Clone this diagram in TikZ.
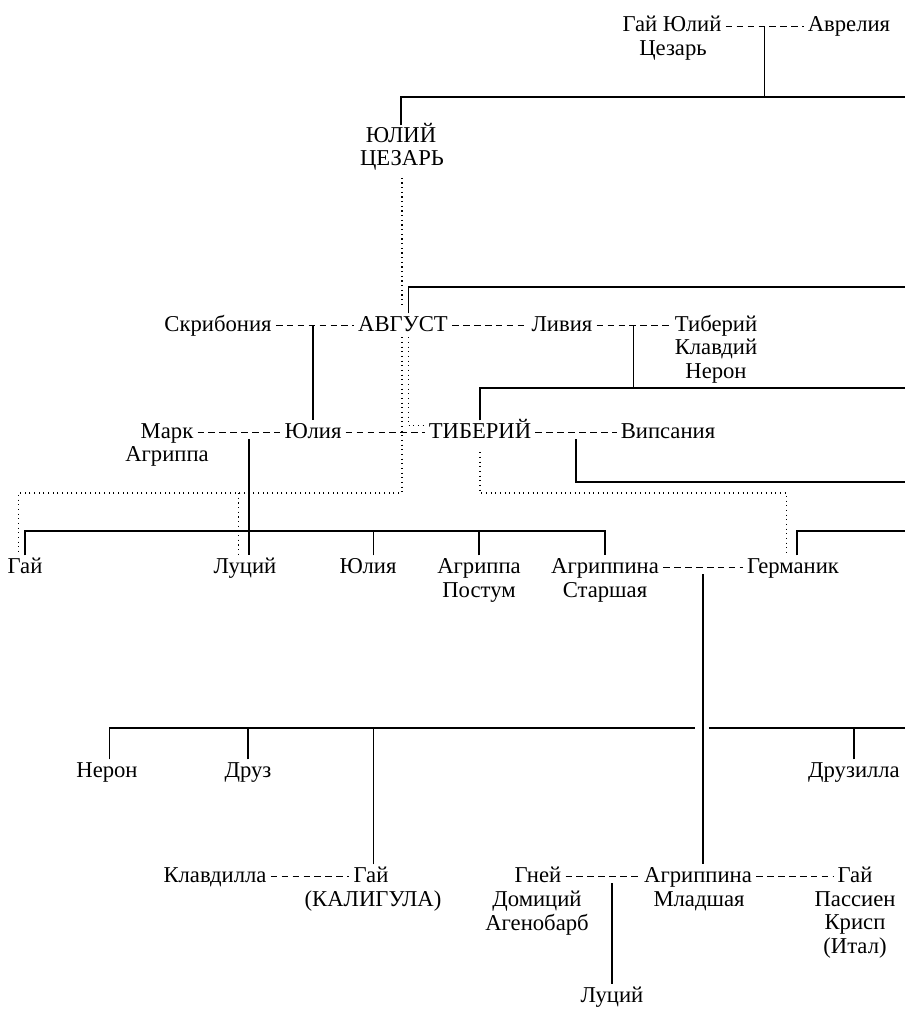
\documentclass[tikz,border=0pt]{standalone}
\usepackage{fontspec}
\setmainfont{Liberation Serif}
\usetikzlibrary{calc}

\begin{document}
\begin{tikzpicture}[
    x=0.75pt, y=-0.75pt,
    person/.style={font=\fontsize{17}{17.6}\selectfont, inner xsep=3pt, inner ysep=0pt, text height=13pt, text depth=4.5pt, anchor=base},
    more/.style={font=\fontsize{17}{17.6}\selectfont, inner sep=0pt, align=center, anchor=base},
    descent/.style={line width=0.85pt},
    marriage/.style={line width=0.8pt, dash pattern=on 5pt off 3.2pt},
    adopt/.style={line width=0.9pt, dash pattern=on 0.9pt off 2.6pt}
]
    \useasboundingbox (0,0) rectangle (905,1009);

    \node[person] (gjc) at (672,32) {Гай Юлий};
    \node[more] (gjc2) at (673,56) {Цезарь};
    \node[person] (aurelia) at (849,32) {Аврелия};

    \node[person] (caesar) at (401,143) {ЮЛИЙ};
    \node[more] (caesar2) at (402,166) {ЦЕЗАРЬ};

    \node[person] (scribonia) at (218,331) {Скрибония};
    \node[person] (august) at (403,331) {АВГУСТ};
    \node[person] (livia) at (562,331) {Ливия};
    \node[person] (tcn) at (716,331) {Тиберий};
    \node[more] (tcn2) at (716,378) {Клавдий\\Нерон};

    \node[person] (agrippa) at (167,438) {Марк};
    \node[more] (agrippa2) at (167,461) {Агриппа};
    \node[person] (julia) at (313,438) {Юлия};
    \node[person] (tiberius) at (480,438) {ТИБЕРИЙ};
    \node[person] (vipsania) at (668,438) {Випсания};

    \node[person] (gaius) at (25,573) {Гай};
    \node[person] (lucius) at (245,573) {Луций};
    \node[person] (julia2) at (368,573) {Юлия};
    \node[person] (postumus) at (479,573) {Агриппа};
    \node[more] (postumus2) at (479,597) {Постум};
    \node[person] (agrippina) at (605,573) {Агриппина};
    \node[more] (agrippina2) at (605,597) {Старшая};
    \node[person] (germanicus) at (793,573) {Германик};

    \node[person] (nero) at (107,777) {Нерон};
    \node[person] (drusus) at (248,777) {Друз};
    \node[person] (drusilla) at (854,777) {Друзилла};

    \node[person] (claudilla) at (215,882) {Клавдилла};
    \node[person] (caligula) at (371,882) {Гай};
    \node[more] (caligula2) at (373,906) {(КАЛИГУЛА)};
    \node[person] (gnaeus) at (538,882) {Гней};
    \node[more] (gnaeus2) at (537,930) {Домиций\\Агенобарб};
    \node[person] (agrippinaj) at (698,882) {Агриппина};
    \node[more] (agrippinaj2) at (699,906) {Младшая};
    \node[person] (passienus) at (855,882) {Гай};
    \node[more] (passienus2) at (855,953) {Пассиен\\Крисп\\(Итал)};
    \node[person] (luciusd) at (612,1002) {Луций};

    \coordinate (edge1) at (905,97);
    \coordinate (edge2) at (905,287);
    \coordinate (edge3) at (905,388);
    \coordinate (edge4) at (905,482);
    \coordinate (edge5) at (905,531);
    \coordinate (edge6) at (905,728);
    \coordinate (kids) at (0,531);
    \coordinate (dots) at (0,493);

    \draw[marriage] (gjc) -- (aurelia);
    \draw[marriage] (scribonia) -- (august);
    \draw[marriage] (august) -- (livia);
    \draw[marriage] (livia) -- (tcn);
    \draw[marriage] (agrippa) -- (julia);
    \draw[marriage] (julia) -- (tiberius);
    \draw[marriage] (tiberius) -- (vipsania);
    \draw[marriage] (agrippina) -- (germanicus);
    \draw[marriage] (claudilla) -- (caligula);
    \draw[marriage] (gnaeus) -- (agrippinaj);
    \draw[marriage] (agrippinaj) -- (passienus);

    \coordinate (m1) at ($(gjc.east)!0.5!(aurelia.west)$);
    \draw[descent] (m1) -- (m1 |- edge1);
    \draw[descent] (caesar.north) |- (edge1);
    \draw[descent] ([xshift=4pt]august.north) |- (edge2);
    \draw[descent] (julia.north |- scribonia.east) -- (julia.north);
    \coordinate (m3) at ($(livia.east)!0.5!(tcn.west)$);
    \draw[descent] (m3) -- (m3 |- edge3);
    \draw[descent] (tiberius.north) |- (edge3);
    \draw[descent, shorten <=5pt] ([xshift=3pt]lucius.north |- agrippa.east) -- ([xshift=3pt]lucius.north);
    \draw[descent] (gaius.north) |- (kids -| agrippina.north) -- (agrippina.north);
    \draw[descent] ([xshift=4pt]julia2.north) -- ([xshift=4pt]julia2.north |- kids);
    \draw[descent] (postumus.north) -- (postumus.north |- kids);
    \coordinate (m4) at ($(tiberius.east)!0.5!(vipsania.west)$);
    \draw[descent, shorten <=5pt] (m4) |- (edge4);
    \draw[descent] ([xshift=3pt]germanicus.north) |- (edge5);
    \coordinate (m5) at ($(agrippina.east)!0.5!(germanicus.west)$);
    \draw[descent, shorten <=5pt] (m5) -- (m5 |- agrippinaj.north);
    \draw[descent] ([xshift=2pt]nero.north) |- ($(m5 |- edge6)+(-8,0)$);
    \draw[descent] ($(m5 |- edge6)+(6,0)$) -- (edge6);
    \draw[descent] (drusus.north) -- (drusus.north |- edge6);
    \draw[descent] ([xshift=2pt]caligula.north) -- ([xshift=2pt]caligula.north |- edge6);
    \draw[descent] (drusilla.north) -- (drusilla.north |- edge6);
    \draw[descent, shorten <=5pt] (luciusd.north |- gnaeus.east) -- (luciusd.north);

    \coordinate (gaiusd) at ([xshift=-5pt]gaius.north);
    \coordinate (luciusa) at ([xshift=-5pt]lucius.north);
    \coordinate (germd) at ([xshift=-5pt]germanicus.north);
    \draw[adopt, shorten <=5pt, shorten >=5pt] (caesar2.south) -- (caesar2.south |- august.north);
    \draw[adopt] (caesar2.south |- august.south) |- (gaiusd |- dots) -- (gaiusd);
    \draw[adopt] (luciusa |- dots) -- (luciusa);
    \draw[adopt] ([xshift=4pt]august.south) |- ([yshift=5pt]tiberius.west);
    \draw[adopt, shorten <=6pt] (tiberius.south) |- (germd |- dots) -- (germd);
\end{tikzpicture}
\end{document}
